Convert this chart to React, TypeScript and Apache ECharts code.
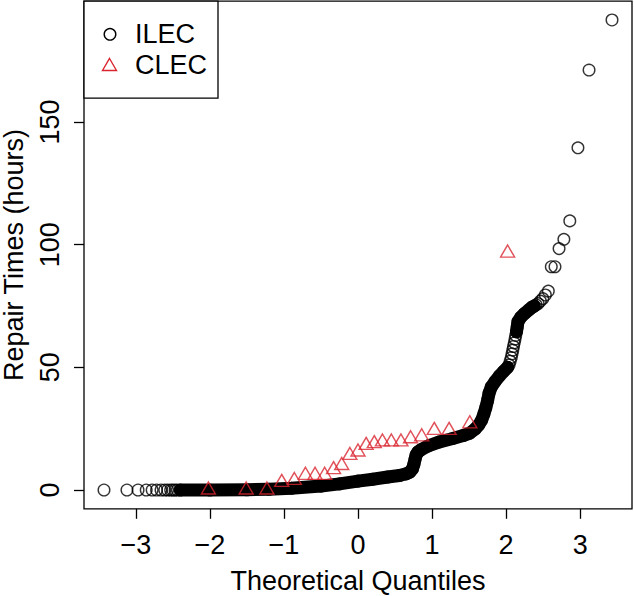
import React, { useEffect, useRef } from "react";
import * as echarts from "echarts";

// Tick positions
const xTicks = [-3, -2, -1, 0, 1, 2, 3];
const yTicks = [0, 50, 100, 150];

// ILEC: theoretical quantile / repair time (hours)
const ilecQ = [
  -3.43, -3.12, -2.97, -2.86, -2.78, -2.72, -2.66, -2.61, -2.57, -2.53, -2.5, -2.47, -2.44,
  -2.4, -2.0, -1.5, -1.2, -0.9, -0.5, -0.25, 0.0, 0.2, 0.4, 0.56, 0.65, 0.7, 0.735, 0.755,
  0.77, 0.785, 0.81, 0.85, 0.95, 1.1, 1.28, 1.42, 1.51, 1.58, 1.63, 1.67, 1.7, 1.725, 1.75,
  1.77, 1.8, 1.85, 1.91, 1.97, 2.02,
  2.04, 2.055, 2.07, 2.08, 2.09, 2.1, 2.11, 2.12, 2.13,
  2.14, 2.15, 2.16, 2.2, 2.25, 2.31, 2.35, 2.38,
  2.405, 2.433, 2.463, 2.495, 2.53, 2.57, 2.61, 2.66, 2.715, 2.78, 2.86, 2.97, 3.12, 3.43,
];
const ilecV = [
  0, 0, 0, 0, 0, 0, 0, 0, 0, 0, 0, 0, 0,
  0, 0, 0.1, 0.3, 0.7, 1.6, 2.5, 3.6, 4.4, 5.3, 5.9, 6.6, 7.3, 8.6, 10.5,
  12.5, 14.3, 15.5, 16.4, 18.0, 19.6, 21.0, 22.2, 23.2, 24.8, 26.5, 28.5, 31, 33.5, 36.5,
  39.5, 42, 44.2, 46.5, 48.5, 50,
  51, 52.5, 54, 55.5, 57, 58.5, 60, 61.5, 63,
  64.5, 66.5, 68.6, 70.5, 72, 73.5, 74.5, 75,
  75.5, 76, 77, 78, 79.5, 81.1, 91, 91, 98.4, 102.2, 109.7, 139.5, 171.2, 191.6,
];
// quantile ranges where the ILEC points are packed into a solid band
const ilecBandRanges = [
  [-2.4, 2.02],
  [2.14, 2.38],
];

// CLEC
const clecQ = [
  -2.02, -1.51, -1.23, -1.03, -0.86, -0.71, -0.58, -0.45, -0.33, -0.22, -0.11, 0,
  0.11, 0.22, 0.33, 0.45, 0.58, 0.71, 0.86, 1.03, 1.23, 1.51, 2.02,
];
const clecV = [
  0, 0, 0, 3.1, 3.9, 6.0, 6.0, 6.0, 8.3, 10.0, 14.1, 15.5,
  18.2, 18.9, 19.6, 19.6, 19.6, 20.9, 21.7, 24.3, 24.3, 27.0, 96.6,
];

const FONT = "'Liberation Sans', Arial, Helvetica, sans-serif";
const RED = "#DA2530";
const FS = 27;

const fmtX = (v: number) => (v < 0 ? "\u2212" + Math.abs(v) : String(v));

export default function App() {
  const ref = useRef<HTMLDivElement>(null);
  useEffect(() => {
    if (!ref.current) return;
    const chart = echarts.init(ref.current, null, { renderer: "svg" });
    const ilecPts = ilecQ.map((q, i) => [q, ilecV[i]]);
    const clecPts = clecQ.map((q, i) => [q, clecV[i]]);
    const bandSeries = ilecBandRanges.map(([a, b]) => ({
      type: "line",
      silent: true,
      symbol: "none",
      z: 1,
      data: ilecPts.filter((p) => p[0] >= a && p[0] <= b),
      lineStyle: { color: "#000", width: 13, cap: "round", join: "round" },
    }));
    const axisFont = { fontSize: FS, fontFamily: FONT, color: "#000" };
    chart.setOption({
      animation: false,
      backgroundColor: "#fff",
      grid: {
        left: 84,
        right: 2,
        top: 1.2,
        bottom: 87.2,
        show: true,
        borderColor: "#000",
        borderWidth: 1.3,
        backgroundColor: "transparent",
        outerBoundsMode: "none",
      },
      xAxis: {
        type: "value",
        min: -3.7,
        max: 3.7,
        axisLine: { show: false, onZero: false },
        splitLine: { show: false },
        axisTick: {
          show: true,
          inside: false,
          length: 10,
          customValues: xTicks,
          lineStyle: { color: "#000", width: 1.3 },
        },
        axisLabel: { ...axisFont, customValues: xTicks, formatter: fmtX, margin: 23 },
        name: "Theoretical Quantiles",
        nameLocation: "middle",
        nameGap: 59,
        nameMoveOverlap: false,
        nameTextStyle: axisFont,
      },
      yAxis: {
        type: "value",
        min: -7.66,
        max: 199.26,
        axisLine: { show: false, onZero: false },
        splitLine: { show: false },
        axisTick: {
          show: true,
          inside: false,
          length: 10,
          customValues: yTicks,
          lineStyle: { color: "#000", width: 1.3 },
        },
        axisLabel: { ...axisFont, customValues: yTicks, rotate: 90, margin: 21 },
        name: "Repair Times (hours)",
        nameLocation: "middle",
        nameRotate: 90,
        nameGap: 57,
        nameMoveOverlap: false,
        nameTextStyle: axisFont,
      },
      series: [
        ...bandSeries,
        {
          type: "scatter",
          name: "ILEC",
          silent: true,
          z: 2,
          symbol: "circle",
          symbolSize: 11.6,
          data: ilecPts,
          itemStyle: { color: "rgba(0,0,0,0)", borderColor: "#000", borderWidth: 1.4 },
        },
        {
          type: "scatter",
          name: "CLEC",
          silent: true,
          z: 3,
          symbol: "triangle",
          symbolSize: [14, 12],
          symbolOffset: [0, -2],
          data: clecPts,
          itemStyle: { color: "rgba(0,0,0,0)", borderColor: RED, borderWidth: 1.4 },
        },
      ],
      graphic: [
        {
          type: "rect",
          z: 100,
          shape: { x: 84, y: 1.2, width: 134, height: 97 },
          style: { fill: "#fff", stroke: "#000", lineWidth: 1.3 },
        },
        {
          type: "circle",
          z: 101,
          shape: { cx: 110, cy: 34.3, r: 5.8 },
          style: { fill: "none", stroke: "#000", lineWidth: 1.4 },
        },
        {
          type: "polygon",
          z: 101,
          shape: { points: [[109.5, 58.5], [116.5, 70.5], [102.5, 70.5]] },
          style: { fill: "none", stroke: RED, lineWidth: 1.4 },
        },
        {
          type: "text",
          z: 101,
          x: 135,
          y: 34,
          style: { text: "ILEC", fontSize: FS, fontFamily: FONT, fill: "#000", verticalAlign: "middle", align: "left" },
        },
        {
          type: "text",
          z: 101,
          x: 135,
          y: 65,
          style: { text: "CLEC", fontSize: FS, fontFamily: FONT, fill: "#000", verticalAlign: "middle", align: "left" },
        },
      ],
    });
    return () => chart.dispose();
  }, []);
  return (
    <div
      ref={ref}
      style={{ position: "absolute", left: 0, top: 0, width: 634, height: 596, background: "#fff" }}
    />
  );
}
